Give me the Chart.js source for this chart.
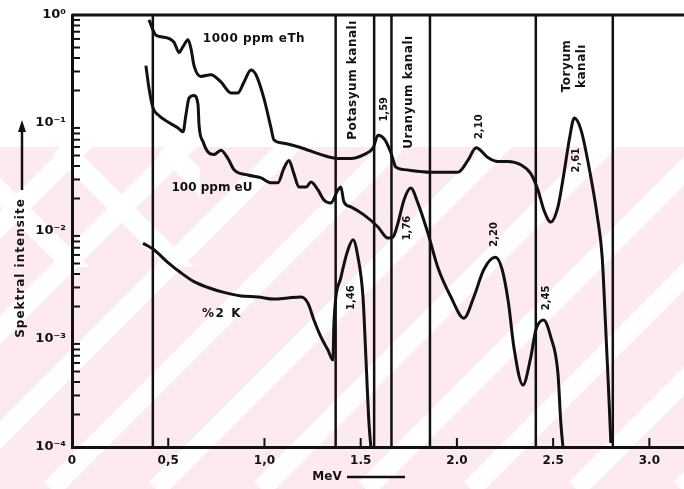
<!DOCTYPE html>
<html>
<head>
<meta charset="utf-8">
<script src="https://cdn.jsdelivr.net/npm/chart.js@4/dist/chart.umd.min.js"></script>
<style>
  html, body { margin: 0; padding: 0; background: #fff; }
  #grafik { width: 684px; height: 489px; position: relative; }
</style>
</head>
<body>
<div id="grafik"><canvas id="spektrum"></canvas></div>
<script>
// 1000 ppm eTh spektrumu (enerji MeV, spektral şiddet)
const thE = [0.400,0.436,0.462,0.530,0.556,0.577,0.603,0.618,0.634,0.670,0.722,0.774,0.826,0.862,0.894,0.930,0.956,0.997,1.034,1.049,1.101,1.190,1.294,1.382,1.449,1.517,1.565,1.59,1.625,1.657,1.683,1.725,1.865,2.005,2.057,2.10,2.161,2.213,2.265,2.332,2.384,2.421,2.452,2.488,2.525,2.556,2.585,2.61,2.645,2.69,2.73,2.755,2.772,2.788,2.80];
const thI = [0.90,0.65,0.63,0.56,0.45,0.51,0.59,0.49,0.34,0.27,0.28,0.24,0.19,0.19,0.24,0.31,0.28,0.17,0.090,0.070,0.065,0.059,0.051,0.047,0.047,0.051,0.059,0.077,0.070,0.053,0.039,0.037,0.035,0.035,0.045,0.059,0.048,0.044,0.044,0.041,0.034,0.024,0.0156,0.0121,0.0167,0.034,0.072,0.111,0.086,0.036,0.0135,0.0057,0.0014,0.00034,0.000109];

// 100 ppm eU spektrumu
const uE = [0.384,0.400,0.421,0.447,0.499,0.551,0.577,0.592,0.608,0.634,0.655,0.660,0.681,0.706,0.738,0.774,0.810,0.842,0.914,0.982,1.034,1.070,1.101,1.127,1.153,1.179,1.216,1.242,1.278,1.309,1.345,1.382,1.397,1.413,1.449,1.517,1.590,1.642,1.668,1.694,1.725,1.76,1.797,1.849,1.901,1.969,2.036,2.088,2.140,2.20,2.235,2.268,2.296,2.343,2.384,2.410,2.45,2.488,2.525,2.540,2.551];
const uI = [0.34,0.21,0.138,0.119,0.102,0.090,0.083,0.119,0.170,0.18,0.147,0.096,0.067,0.054,0.051,0.056,0.047,0.037,0.033,0.031,0.028,0.028,0.038,0.045,0.034,0.0255,0.0255,0.0284,0.024,0.0194,0.0182,0.024,0.0255,0.0186,0.0167,0.0141,0.0109,0.0086,0.0088,0.0119,0.0194,0.025,0.0182,0.0096,0.0046,0.00245,0.00156,0.00245,0.0044,0.0057,0.0044,0.00215,0.00084,0.000375,0.00068,0.00121,0.0015,0.00104,0.00048,0.000167,0.0001];

// %2 K spektrumu
const kE = [0.369,0.426,0.499,0.566,0.634,0.706,0.790,0.878,0.966,1.049,1.122,1.190,1.226,1.257,1.294,1.330,1.356,1.361,1.397,1.434,1.46,1.486,1.512,1.527,1.543,1.553];
const kI = [0.0077,0.0067,0.0051,0.0041,0.0034,0.0030,0.0027,0.0025,0.00245,0.00234,0.0024,0.00245,0.00215,0.0015,0.00104,0.00079,0.00064,0.0014,0.0037,0.0067,0.0083,0.0057,0.00245,0.00068,0.000167,0.0001];

// fotopik enerjileri (MeV)
const thTepeler = [1.59, 2.10, 2.61];
const uTepeler = [1.76, 2.20, 2.45];
const kTepeler = [1.46];

// kanal sınırları (MeV)
const kanalSinirlari = [0.42, 1.37, 1.57, 1.66, 1.86, 2.41, 2.81];

// eksen değerleri
const xTickDegerleri = [0, 0.5, 1.0, 1.5, 2.0, 2.5, 3.0];
const xTickYazilari = ['0', '0,5', '1,0', '1.5', '2.0', '2.5', '3.0'];
const yTickDegerleri = [1e-4, 1e-3, 1e-2, 1e-1, 1];
const yTickYazilari = ['10⁻⁴', '10⁻³', '10⁻²', '10⁻¹', '10⁰'];

const YMIN = 1e-4, YMAX = 1, XMAX = 3.18;

function noktalar(es, is) {
  return es.map((e, i) => ({ x: e, y: is[i] }));
}

function egri(ad, es, is) {
  return {
    label: ad,
    data: noktalar(es, is),
    borderColor: '#111',
    borderWidth: 3,
    pointRadius: 0,
    cubicInterpolationMode: 'monotone',
    fill: false
  };
}

const datasets = [
  egri('1000 ppm eTh', thE, thI),
  egri('100 ppm eU', uE, uI),
  egri('%2 K', kE, kI)
];

kanalSinirlari.forEach(e => {
  datasets.push({
    label: 'kanal ' + e,
    data: [{ x: e, y: YMIN }, { x: e, y: YMAX }],
    borderColor: '#111',
    borderWidth: 2.5,
    pointRadius: 0,
    tension: 0
  });
});

const PEMBE = '#fdeaee';

// arka plandaki pembe şeritler
const arkaPlan = {
  id: 'arkaPlan',
  beforeDraw(chart) {
    const c = chart.ctx;
    const W = chart.width, H = chart.height;
    c.save();
    c.fillStyle = '#fff';
    c.fillRect(0, 0, W, H);
    c.beginPath();
    c.rect(0, 147, W, H - 147);
    c.clip();
    c.fillStyle = PEMBE;
    c.fillRect(0, 147, W, H - 147);
    c.strokeStyle = '#fff';
    c.lineWidth = 20;
    for (let s = 225; s < W + H + 100; s += 105) {
      c.beginPath();
      c.moveTo(s - H, H);
      c.lineTo(s, 0);
      c.stroke();
    }
    // sol üstteki ters şeritler
    c.beginPath();
    c.rect(0, 147, 200, 120);
    c.clip();
    for (let s = -150; s < 200; s += 105) {
      c.beginPath();
      c.moveTo(s, 147);
      c.lineTo(s + 150, 297);
      c.stroke();
    }
    c.restore();
  }
};

function metin(c, yazi, x, y, aci, font, aralik) {
  c.save();
  c.translate(x, y);
  c.rotate(aci);
  c.font = font;
  c.letterSpacing = aralik || '0px';
  c.textAlign = 'center';
  c.textBaseline = 'middle';
  c.fillStyle = '#111';
  c.fillText(yazi, 0, 0);
  c.restore();
}

function tepeNoktasi(es, is, e) {
  let en = 0;
  es.forEach((v, i) => { if (Math.abs(v - e) < Math.abs(es[en] - e)) en = i; });
  return is[en];
}

// çerçeve, küçük çentikler ve yazılar
const sahne = {
  id: 'sahne',
  afterDraw(chart) {
    const c = chart.ctx;
    const xs = chart.scales.x, ys = chart.scales.y;
    const a = chart.chartArea;
    c.save();
    c.strokeStyle = '#111';

    // üst çizgi
    c.lineWidth = 3;
    c.beginPath();
    c.moveTo(a.left, a.top);
    c.lineTo(a.right, a.top);
    c.stroke();

    // y ekseni ara çentikleri
    c.lineWidth = 2;
    for (let d = -4; d < 0; d++) {
      for (let m = 2; m <= 9; m++) {
        const py = ys.getPixelForValue(m * Math.pow(10, d));
        c.beginPath();
        c.moveTo(a.left, py);
        c.lineTo(a.left + 8, py);
        c.stroke();
      }
    }
    // x ekseni çentikleri
    xTickDegerleri.slice(1).forEach(v => {
      const px = xs.getPixelForValue(v);
      c.beginPath();
      c.moveTo(px, a.bottom);
      c.lineTo(px, a.bottom - 9);
      c.stroke();
    });
    c.restore();

    const kalin = 'bold 12px "DejaVu Sans"';
    const dik = -Math.PI / 2;

    // eğri adları
    metin(c, '1000 ppm eTh', 254, 39, 0, 'bold 12px "DejaVu Sans"', '0.5px');
    metin(c, '100 ppm eU', 212, 188, 0, 'bold 12px "DejaVu Sans"', '0px');
    metin(c, '%2 K', 222, 314, 0, 'bold 12px "DejaVu Sans"', '1.5px');

    // kanal adları
    const kx = (e1, e2) => (xs.getPixelForValue(e1) + xs.getPixelForValue(e2)) / 2;
    metin(c, 'Potasyum kanalı', kx(1.37, 1.57) - 2, 80, dik, kalin, '0.5px');
    metin(c, 'Uranyum kanalı', kx(1.66, 1.86) - 2, 92, dik, kalin, '0.5px');
    metin(c, 'Toryum', kx(2.41, 2.81) - 7, 66, dik, kalin, '0.5px');
    metin(c, 'kanalı', kx(2.41, 2.81) + 8, 66, dik, kalin, '0.5px');

    // tepe enerjileri
    const ofset = {
      '1.59': [6, -26], '2.1': [3, -21], '2.61': [2, 42],
      '1.76': [-3, 40], '2.2': [-1, -23], '2.45': [3, -22],
      '1.46': [-2, 58]
    };
    const yaz = (tepeler, es, is) => tepeler.forEach(e => {
      const px = xs.getPixelForValue(e);
      const py = ys.getPixelForValue(tepeNoktasi(es, is, e));
      const o = ofset[String(e)];
      metin(c, e.toFixed(2).replace('.', ','), px + o[0], py + o[1], dik, 'bold 10px "DejaVu Sans"', '0px');
    });
    yaz(thTepeler, thE, thI);
    yaz(uTepeler, uE, uI);
    yaz(kTepeler, kE, kI);

    // eksen başlıkları
    metin(c, 'Spektral intensite', 21, 268, dik, 'bold 12px "DejaVu Sans"', '1px');
    c.save();
    c.strokeStyle = '#111';
    c.fillStyle = '#111';
    c.lineWidth = 2.5;
    c.beginPath();
    c.moveTo(22, 190);
    c.lineTo(22, 128);
    c.stroke();
    c.beginPath();
    c.moveTo(22, 120);
    c.lineTo(18, 132);
    c.lineTo(26, 132);
    c.closePath();
    c.fill();
    c.restore();

    metin(c, 'MeV', 327, 477, 0, 'bold 12px "DejaVu Sans"', '0px');
    c.save();
    c.strokeStyle = '#111';
    c.lineWidth = 2.5;
    c.beginPath();
    c.moveTo(347, 477);
    c.lineTo(405, 477);
    c.stroke();
    c.restore();
  }
};

new Chart(document.getElementById('spektrum'), {
  type: 'line',
  data: { datasets },
  options: {
    responsive: true,
    maintainAspectRatio: false,
    animation: false,
    devicePixelRatio: 1,
    layout: { padding: { top: 15, left: 0, right: 0, bottom: 0 } },
    plugins: { legend: { display: false }, tooltip: { enabled: false } },
    scales: {
      x: {
        type: 'linear',
        min: 0,
        max: XMAX,
        afterFit: s => { s.height = 42; },
        afterBuildTicks: s => { s.ticks = xTickDegerleri.map(v => ({ value: v })); },
        grid: { display: false, drawTicks: false },
        border: { display: true, color: '#111', width: 3 },
        ticks: {
          padding: 7,
          color: '#111',
          font: { family: 'DejaVu Sans', weight: 'bold', size: 12 },
          maxRotation: 0,
          callback: v => {
            const i = xTickDegerleri.findIndex(t => Math.abs(t - v) < 1e-6);
            return i < 0 ? '' : xTickYazilari[i];
          }
        }
      },
      y: {
        type: 'logarithmic',
        min: YMIN,
        max: YMAX,
        afterFit: s => { s.width = 72; },
        afterBuildTicks: s => { s.ticks = yTickDegerleri.map(v => ({ value: v })); },
        grid: { display: false, drawTicks: false },
        border: { display: true, color: '#111', width: 3 },
        ticks: {
          padding: 6,
          color: '#111',
          font: { family: 'DejaVu Sans', weight: 'bold', size: 13 },
          callback: v => {
            const i = yTickDegerleri.findIndex(t => Math.abs(Math.log10(t) - Math.log10(v)) < 1e-6);
            return i < 0 ? '' : yTickYazilari[i];
          }
        }
      }
    }
  },
  plugins: [arkaPlan, sahne]
});
</script>
</body>
</html>
